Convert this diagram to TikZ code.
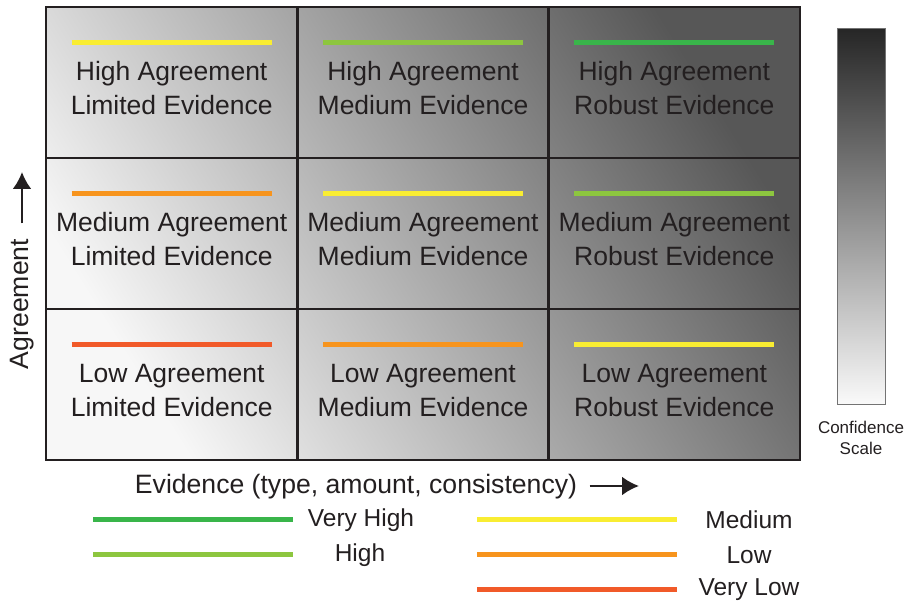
\documentclass[tikz,border=0pt]{standalone}
\usepackage{fontspec}
\setmainfont{Liberation Sans}
\usepackage{tikz}
\usetikzlibrary{arrows.meta}
\definecolor{vhighc}{RGB}{57,181,74}
\definecolor{highc}{RGB}{141,198,63}
\definecolor{medc}{RGB}{249,237,50}
\definecolor{lowc}{RGB}{247,148,29}
\definecolor{vlowc}{RGB}{241,90,41}
\definecolor{inkc}{RGB}{35,31,32}
\tikzstyle{panel} = [rectangle, minimum width=754pt, minimum height=453pt, inner sep=0pt, shading=axis, top color=black!66, middle color=black!25, bottom color=black!3, shading angle=-58]
\tikzstyle{cell} = [rectangle, minimum width=251.33pt, minimum height=151pt, draw=inkc, line width=2.5pt, text centered, align=center, text=inkc, font=\fontsize{26.5}{34}\selectfont, text height=65pt]
\tikzstyle{confline} = [line width=5pt]
\tikzstyle{keyline} = [line width=5pt]
\tikzstyle{keytext} = [text=inkc, font=\fontsize{24.5}{28}\selectfont]
\tikzstyle{axislabel} = [text=inkc, font=\fontsize{26.6}{30}\selectfont]
\tikzstyle{axisarrow} = [line width=2.5pt, draw=inkc, -{Latex[length=17pt,width=19pt]}]

\begin{document}
\begin{tikzpicture}[x=1pt, y=1pt, node distance=251.33pt]
\useasboundingbox (0,0) rectangle (906,608);
\node (panel) [panel] at (423,374.5) {};
\node (hilim) [cell] at (171.67,525.5) {High Agreement\\Limited Evidence};
\node (himed) [cell, right of=hilim] {High Agreement\\Medium Evidence};
\node (hirob) [cell, right of=himed] {High Agreement\\Robust Evidence};
\node (mdlim) [cell, below of=hilim, node distance=151pt] {Medium Agreement\\Limited Evidence};
\node (mdmed) [cell, right of=mdlim] {Medium Agreement\\Medium Evidence};
\node (mdrob) [cell, right of=mdmed] {Medium Agreement\\Robust Evidence};
\node (lolim) [cell, below of=mdlim, node distance=151pt] {Low Agreement\\Limited Evidence};
\node (lomed) [cell, right of=lolim] {Low Agreement\\Medium Evidence};
\node (lorob) [cell, right of=lomed] {Low Agreement\\Robust Evidence};
% confidence marks in the cells
\draw [confline, medc] ([xshift=-100pt,yshift=39.5pt]hilim.center) -- ([xshift=100pt,yshift=39.5pt]hilim.center);
\draw [confline, highc] ([xshift=-100pt,yshift=39.5pt]himed.center) -- ([xshift=100pt,yshift=39.5pt]himed.center);
\draw [confline, vhighc] ([xshift=-100pt,yshift=39.5pt]hirob.center) -- ([xshift=100pt,yshift=39.5pt]hirob.center);
\draw [confline, lowc] ([xshift=-100pt,yshift=39.5pt]mdlim.center) -- ([xshift=100pt,yshift=39.5pt]mdlim.center);
\draw [confline, medc] ([xshift=-100pt,yshift=39.5pt]mdmed.center) -- ([xshift=100pt,yshift=39.5pt]mdmed.center);
\draw [confline, highc] ([xshift=-100pt,yshift=39.5pt]mdrob.center) -- ([xshift=100pt,yshift=39.5pt]mdrob.center);
\draw [confline, vlowc] ([xshift=-100pt,yshift=39.5pt]lolim.center) -- ([xshift=100pt,yshift=39.5pt]lolim.center);
\draw [confline, lowc] ([xshift=-100pt,yshift=39.5pt]lomed.center) -- ([xshift=100pt,yshift=39.5pt]lomed.center);
\draw [confline, medc] ([xshift=-100pt,yshift=39.5pt]lorob.center) -- ([xshift=100pt,yshift=39.5pt]lorob.center);
% axes
\node (agree) [axislabel, rotate=90] at (22,304) {Agreement};
\coordinate (agtip) at (22,436);
\draw [axisarrow] ([yshift=12pt]agree.east) -- (agtip);
\node (evid) [axislabel] at (356,121) {Evidence (type, amount, consistency)};
\coordinate (evtip) at (639,122);
\draw [axisarrow] ([xshift=9pt,yshift=1pt]evid.east) -- (evtip);
% confidence scale
\node (scalebar) [rectangle, minimum width=48pt, minimum height=376pt, draw=black!55, line width=1pt, shading=axis, top color=black!85, middle color=black!45, bottom color=black!2] at (861,391) {};
\node (scaletext) [below of=scalebar, node distance=220.5pt, align=center, text=inkc, font=\fontsize{17}{21}\selectfont] {Confidence\\Scale};
% legend
\draw [keyline, vhighc] (93,88) -- (293,88);
\node (kvhigh) [keytext] at (361,88) {Very High};
\draw [keyline, highc] (93,53) -- (293,53);
\node (khigh) [keytext] at (360,53) {High};
\draw [keyline, medc] (477,88) -- (677,88);
\node (kmed) [keytext] at (749,88) {Medium};
\draw [keyline, lowc] (477,53) -- (677,53);
\node (klow) [keytext] at (749,53) {Low};
\draw [keyline, vlowc] (477,18) -- (677,18);
\node (kvlow) [keytext] at (749,18) {Very Low};
\end{tikzpicture}
\end{document}
